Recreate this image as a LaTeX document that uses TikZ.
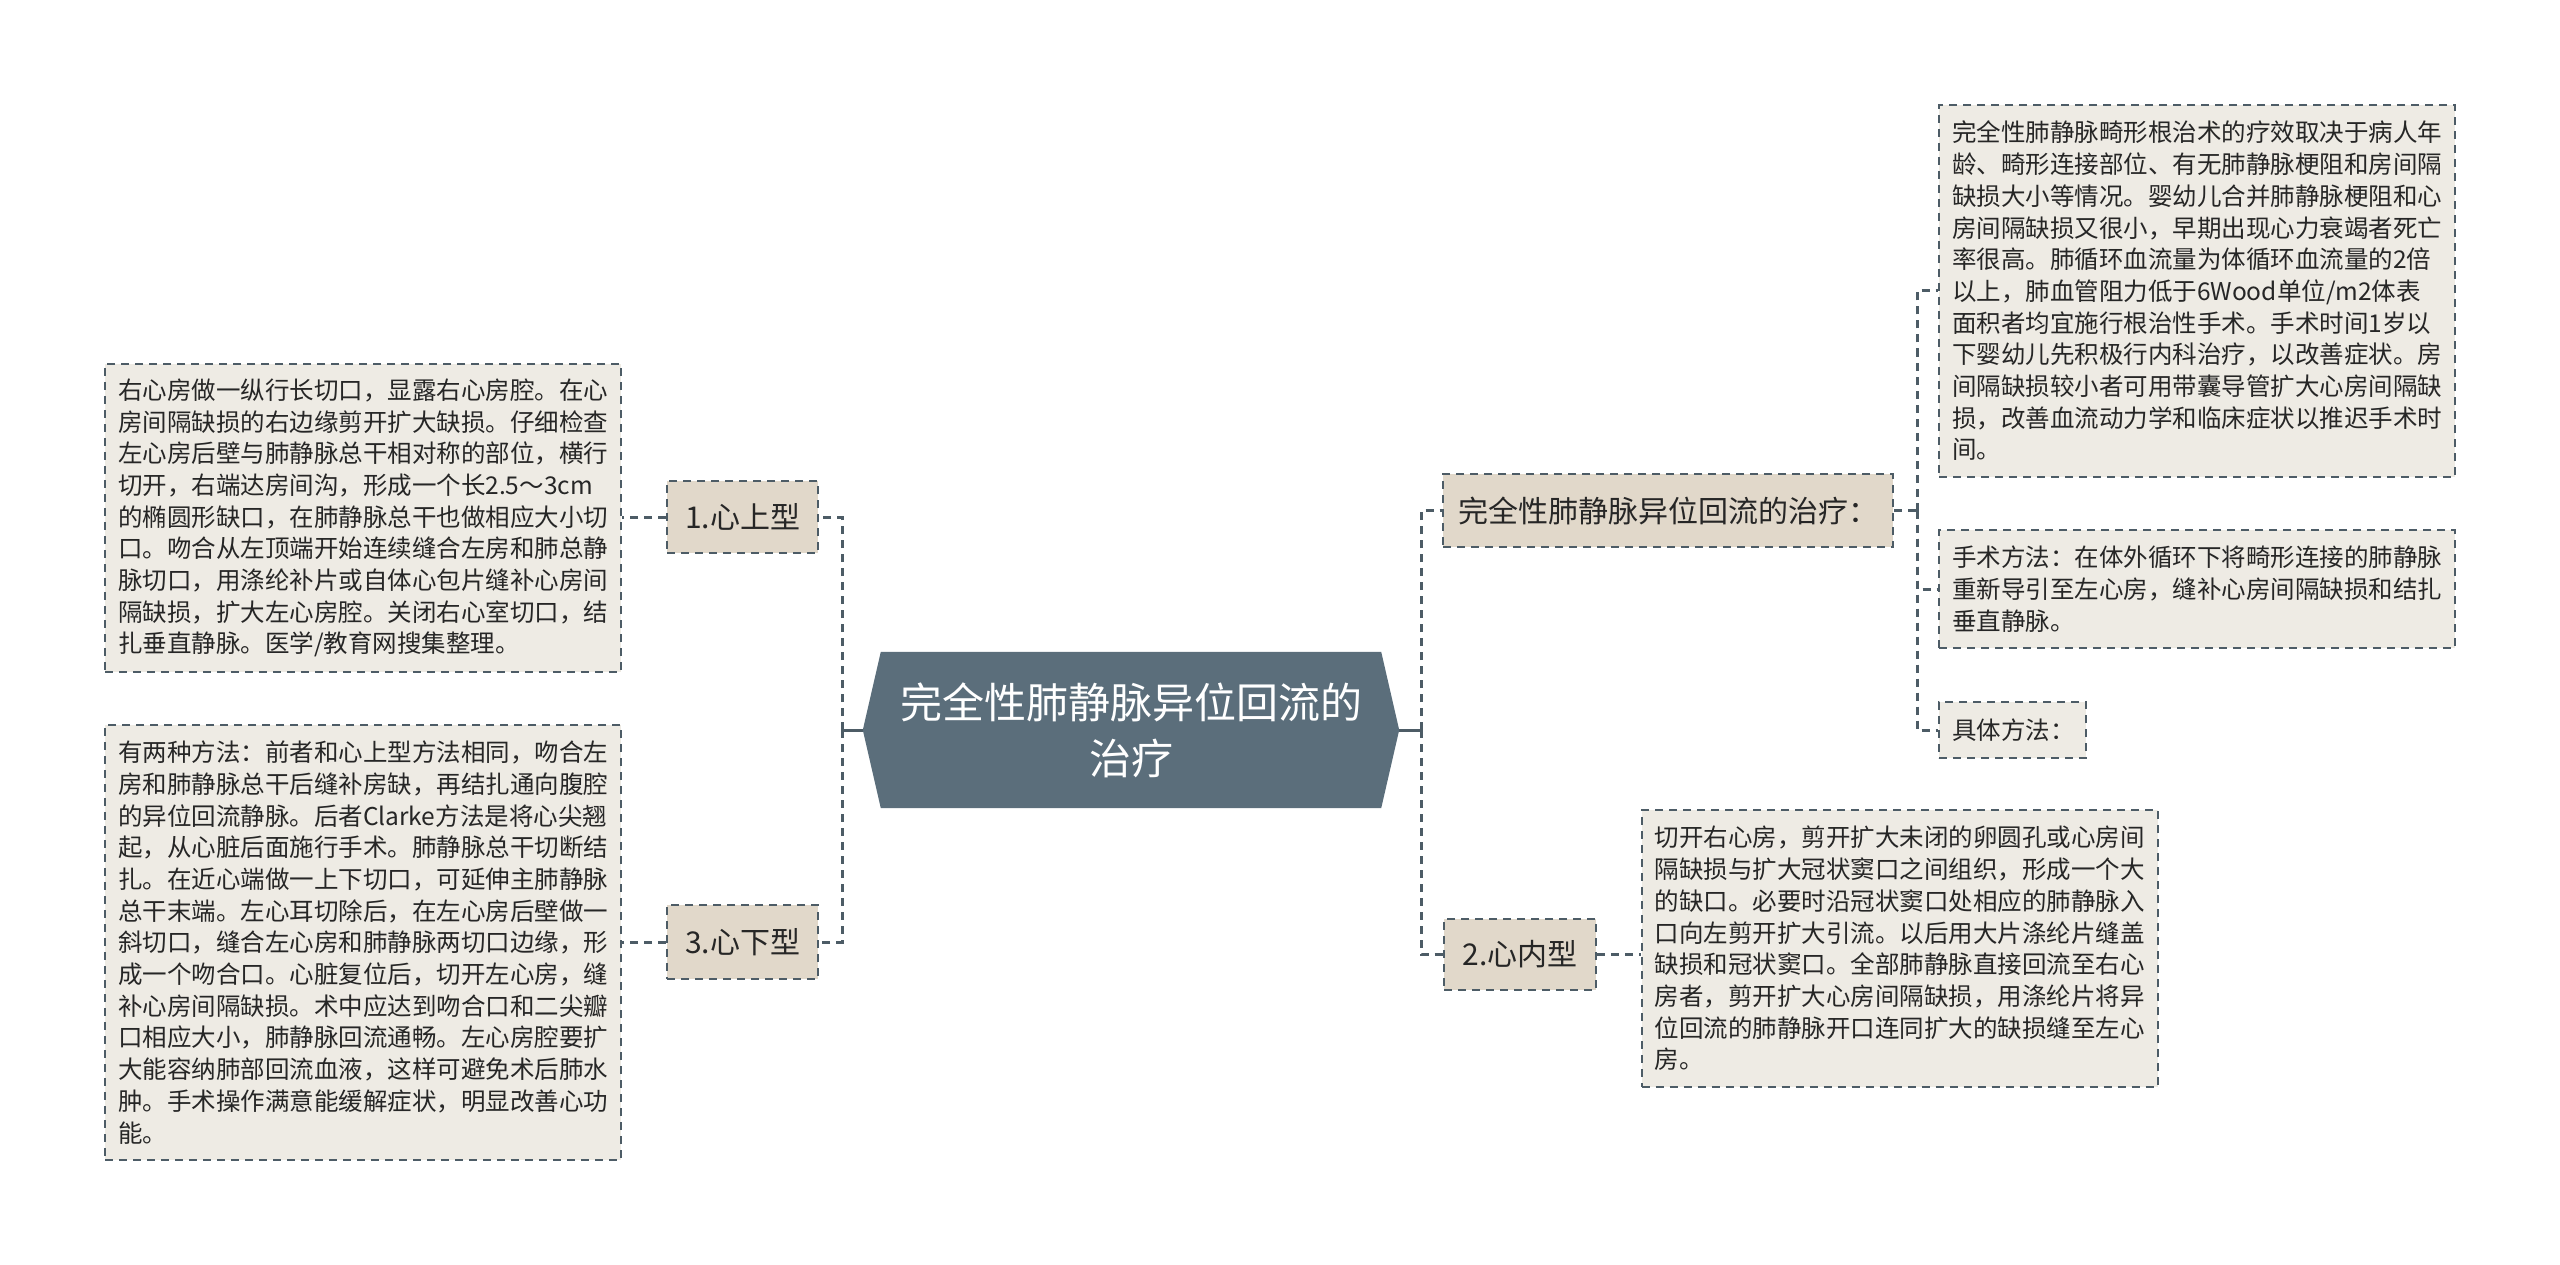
\documentclass[tikz,border=0pt]{standalone}
\usepackage{fontspec}
\setmainfont{Noto Sans CJK SC}
\usetikzlibrary{backgrounds}
\definecolor{lc}{HTML}{4D5C66}
\definecolor{hexc}{HTML}{5B6E7B}
\definecolor{lfill}{HTML}{E1D8CA}
\definecolor{tfill}{HTML}{EEEBE4}
\definecolor{tc}{HTML}{262626}
\begin{document}
\begin{tikzpicture}[x=1pt,y=-1pt,
  tbox/.style={draw=lc, line width=2pt, dash pattern=on 8pt off 6pt, fill=tfill, text=tc,
    font=\fontsize{24.5pt}{31.7pt}\selectfont, text width=490pt, align=left,
    inner xsep=13pt, inner ysep=0pt, minimum width=516pt},
  lbox/.style={draw=lc, line width=2pt, dash pattern=on 8pt off 6pt, fill=lfill, text=tc,
    font=\fontsize{30pt}{36pt}\selectfont, inner xsep=12pt, inner ysep=0pt, minimum height=72pt},
  dconn/.style={draw=lc, line width=3pt, dash pattern=on 8pt off 6pt},
  sconn/.style={draw=lc, line width=3pt},
  centernode/.style={text=white, font=\fontsize{42pt}{56pt}\selectfont, align=center,
    minimum width=536pt, minimum height=156pt, inner sep=0pt}
]
\useasboundingbox (0,0) rectangle (2560,1265);

% central node
\node[centernode] (c) at (1131,730) {完全性肺静脉异位回流的\\治疗};

% left side
\node[lbox, minimum width=151pt] (s1) at (742.5,517) {1.心上型};
\node[lbox, minimum width=151pt, minimum height=74pt] (s3) at (742.5,942) {3.心下型};
\node[tbox, minimum height=308pt] (l1) at (363,518) {右心房做一纵行长切口，显露右心房腔。在心\\
房间隔缺损的右边缘剪开扩大缺损。仔细检查\\
左心房后壁与肺静脉总干相对称的部位，横行\\
切开，右端达房间沟，形成一个长2.5～3cm\\
的椭圆形缺口，在肺静脉总干也做相应大小切\\
口。吻合从左顶端开始连续缝合左房和肺总静\\
脉切口，用涤纶补片或自体心包片缝补心房间\\
隔缺损，扩大左心房腔。关闭右心室切口，结\\
扎垂直静脉。医学/教育网搜集整理。};
\node[tbox, minimum height=435pt] (l2) at (363,942.5) {有两种方法：前者和心上型方法相同，吻合左\\
房和肺静脉总干后缝补房缺，再结扎通向腹腔\\
的异位回流静脉。后者Clarke方法是将心尖翘\\
起，从心脏后面施行手术。肺静脉总干切断结\\
扎。在近心端做一上下切口，可延伸主肺静脉\\
总干末端。左心耳切除后，在左心房后壁做一\\
斜切口，缝合左心房和肺静脉两切口边缘，形\\
成一个吻合口。心脏复位后，切开左心房，缝\\
补心房间隔缺损。术中应达到吻合口和二尖瓣\\
口相应大小，肺静脉回流通畅。左心房腔要扩\\
大能容纳肺部回流血液，这样可避免术后肺水\\
肿。手术操作满意能缓解症状，明显改善心功\\
能。};

% right side
\node[lbox, minimum width=450pt, minimum height=73pt] (s4) at (1668,510.5) {完全性肺静脉异位回流的治疗：};
\node[lbox, minimum width=152pt, minimum height=71pt] (s2) at (1520,954.5) {2.心内型};
\node[tbox, minimum height=372pt] (r1) at (2197,291) {完全性肺静脉畸形根治术的疗效取决于病人年\\
龄、畸形连接部位、有无肺静脉梗阻和房间隔\\
缺损大小等情况。婴幼儿合并肺静脉梗阻和心\\
房间隔缺损又很小，早期出现心力衰竭者死亡\\
率很高。肺循环血流量为体循环血流量的2倍\\
以上，肺血管阻力低于6Wood单位/m2体表\\
面积者均宜施行根治性手术。手术时间1岁以\\
下婴幼儿先积极行内科治疗，以改善症状。房\\
间隔缺损较小者可用带囊导管扩大心房间隔缺\\
损，改善血流动力学和临床症状以推迟手术时\\
间。};
\node[tbox, minimum height=118pt] (r2) at (2197,589) {手术方法：在体外循环下将畸形连接的肺静脉\\
重新导引至左心房，缝补心房间隔缺损和结扎\\
垂直静脉。};
\node[tbox, text width=121pt, minimum width=147pt, minimum height=56pt] (r3) at (2012.5,730) {具体方法：};
\node[tbox, minimum height=277pt] (r4) at (1899.5,948.5) {切开右心房，剪开扩大未闭的卵圆孔或心房间\\
隔缺损与扩大冠状窦口之间组织，形成一个大\\
的缺口。必要时沿冠状窦口处相应的肺静脉入\\
口向左剪开扩大引流。以后用大片涤纶片缝盖\\
缺损和冠状窦口。全部肺静脉直接回流至右心\\
房者，剪开扩大心房间隔缺损，用涤纶片将异\\
位回流的肺静脉开口连同扩大的缺损缝至左心\\
房。};

\coordinate (lj) at (842,730);
\coordinate (rj) at (1421,730);
\coordinate (rj2) at ([xshift=23pt]s4.east);

\begin{scope}[on background layer]
  \fill[white] (0,0) rectangle (2560,1265);
  \fill[hexc] (c.west) -- ([xshift=18pt]c.north west) -- ([xshift=-18pt]c.north east)
    -- (c.east) -- ([xshift=-18pt]c.south east) -- ([xshift=18pt]c.south west) -- cycle;
  \draw[sconn] (c.west) -- (lj);
  \draw[sconn] (c.east) -- (rj);
  \draw[dconn] (lj) |- (s1.east);
  \draw[dconn] (lj) |- (s3.east);
  \draw[dconn] (s1.west) -- (s1.west -| l1.east);
  \draw[dconn] (s3.west) -- (s3.west -| l2.east);
  \draw[dconn] (rj) |- (s4.west);
  \draw[dconn] (rj) |- (s2.west);
  \draw[dconn] (s2.east) -- (s2.east -| r4.west);
  \draw[dconn] (s4.east) -- (rj2);
  \draw[dconn] (rj2) |- (r1.west);
  \draw[dconn] (rj2) |- (r2.west);
  \draw[dconn] (rj2) |- (r3.west);
\end{scope}
\end{tikzpicture}
\end{document}
